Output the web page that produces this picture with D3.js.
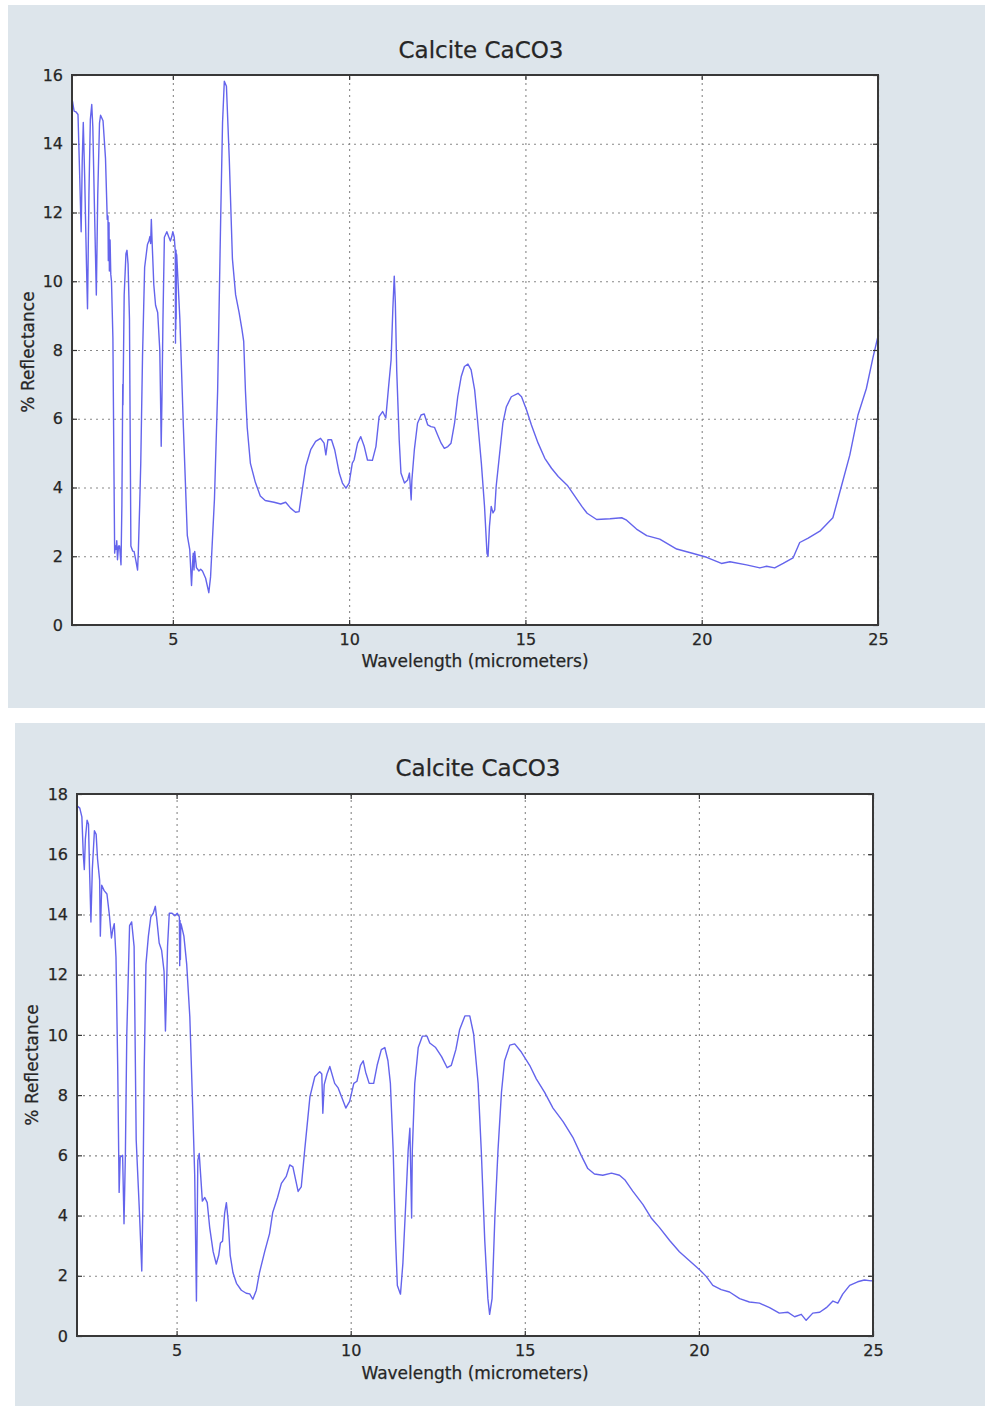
<!DOCTYPE html>
<html>
<head>
<meta charset="utf-8">
<script src="https://cdn.jsdelivr.net/npm/d3@7"></script>
<style>
  body { margin: 0; background: #fff; }
  text { font-family: "DejaVu Sans", sans-serif; fill: #262626; stroke: #262626; stroke-width: 0.25px; }
</style>
</head>
<body>
<svg id="chart" width="985" height="1406"></svg>
<script>
// spectrum data
const topWavelength = [
  2.14, 2.16, 2.20, 2.25, 2.31, 2.36, 2.40, 2.43, 2.46, 2.50, 2.55, 2.58, 2.62, 2.66, 2.70, 2.73, 2.78, 2.83, 2.87, 2.92,
  2.95, 3.02, 3.09, 3.14, 3.16, 3.17, 3.19, 3.20, 3.22, 3.24, 3.26, 3.30, 3.33, 3.35, 3.37, 3.39, 3.41, 3.43, 3.46, 3.49,
  3.53, 3.555, 3.58, 3.585, 3.62, 3.67, 3.70, 3.73, 3.77, 3.81, 3.86, 3.90, 3.95, 4.00, 4.02, 4.06, 4.09, 4.14, 4.20, 4.28,
  4.32, 4.35, 4.37, 4.39, 4.41, 4.46, 4.51, 4.57, 4.63, 4.66, 4.67, 4.69, 4.72, 4.76, 4.83, 4.88, 4.93, 4.97, 5.00, 5.04,
  5.07, 5.075, 5.08, 5.085, 5.09, 5.095, 5.10, 5.11, 5.20, 5.30, 5.41, 5.48, 5.53, 5.56, 5.58, 5.60, 5.62, 5.67, 5.74, 5.79,
  5.84, 5.93, 6.02, 6.07, 6.18, 6.27, 6.36, 6.41, 6.46, 6.52, 6.60, 6.69, 6.78, 6.88, 6.96, 7.01, 7.06, 7.11, 7.20, 7.34,
  7.48, 7.62, 7.87, 8.06, 8.20, 8.34, 8.48, 8.58, 8.67, 8.77, 8.91, 9.05, 9.19, 9.29, 9.34, 9.40, 9.50, 9.59, 9.72, 9.81,
  9.91, 10.00, 10.09, 10.14, 10.24, 10.33, 10.43, 10.52, 10.66, 10.76, 10.85, 10.95, 11.04, 11.12, 11.19, 11.24, 11.28, 11.31, 11.35, 11.42,
  11.47, 11.57, 11.66, 11.71, 11.76, 11.78, 11.85, 11.94, 12.04, 12.13, 12.23, 12.32, 12.42, 12.51, 12.61, 12.70, 12.80, 12.89, 12.99, 13.08,
  13.18, 13.27, 13.37, 13.46, 13.56, 13.65, 13.75, 13.84, 13.91, 13.94, 13.98, 14.03, 14.08, 14.13, 14.17, 14.27, 14.36, 14.46, 14.60, 14.79,
  14.89, 15.03, 15.17, 15.36, 15.55, 15.74, 15.93, 16.20, 16.40, 16.60, 16.75, 17.02, 17.40, 17.73, 17.87, 18.15, 18.44, 18.81, 19.29, 19.76,
  20.14, 20.56, 20.80, 21.27, 21.65, 21.84, 22.07, 22.31, 22.59, 22.78, 23.02, 23.35, 23.72, 23.96, 24.20, 24.43, 24.67, 24.86, 25.00
];
const topReflectance = [
  15.3, 15.2, 14.95, 14.93, 14.85, 13.0, 11.44, 13.5, 14.62, 13.0, 10.5, 9.2, 12.5, 14.7, 15.14, 14.5, 12.0, 9.6, 12.5, 14.6,
  14.83, 14.67, 13.58, 11.8, 11.9, 10.6, 11.7, 10.3, 11.2, 10.2, 10.0, 8.35, 4.5, 2.09, 2.3, 2.2, 2.45, 1.9, 2.3, 2.3,
  1.75, 3.5, 7.0, 6.4, 9.6, 10.8, 10.9, 10.5, 8.9, 2.3, 2.15, 2.14, 1.88, 1.6, 2.09, 3.5, 4.7, 7.8, 10.4, 11.07,
  11.17, 11.3, 11.1, 11.8, 11.2, 9.9, 9.3, 9.09, 8.0, 6.0, 5.2, 6.5, 8.9, 11.28, 11.44, 11.3, 11.17, 11.3, 11.44, 11.28,
  10.86, 8.2, 10.9, 8.6, 10.9, 8.9, 10.8, 10.76, 8.88, 5.74, 2.61, 2.19, 1.15, 1.8, 2.09, 1.6, 2.14, 1.67, 1.57, 1.62,
  1.57, 1.36, 0.94, 1.4, 3.66, 6.79, 12.0, 14.62, 15.82, 15.67, 13.58, 10.65, 9.61, 9.09, 8.6, 8.25, 6.79, 5.74, 4.7, 4.15,
  3.75, 3.62, 3.57, 3.52, 3.57, 3.4, 3.28, 3.3, 3.93, 4.61, 5.1, 5.34, 5.43, 5.29, 4.95, 5.39, 5.39, 5.1, 4.42, 4.13,
  3.98, 4.13, 4.71, 4.8, 5.29, 5.48, 5.19, 4.8, 4.79, 5.19, 6.06, 6.21, 6.02, 6.94, 7.71, 9.2, 10.15, 9.4, 7.4, 5.39,
  4.42, 4.13, 4.22, 4.42, 3.64, 4.22, 5.1, 5.87, 6.11, 6.14, 5.82, 5.77, 5.75, 5.53, 5.29, 5.14, 5.19, 5.29, 5.87, 6.64,
  7.23, 7.52, 7.59, 7.42, 6.84, 5.87, 4.71, 3.45, 2.09, 2.0, 2.87, 3.45, 3.26, 3.35, 4.03, 5.0, 5.87, 6.35, 6.64, 6.74,
  6.64, 6.26, 5.82, 5.29, 4.85, 4.56, 4.32, 4.05, 3.75, 3.45, 3.25, 3.07, 3.09, 3.12, 3.05, 2.79, 2.6, 2.5, 2.21, 2.08,
  1.97, 1.79, 1.84, 1.75, 1.66, 1.71, 1.66, 1.79, 1.95, 2.4, 2.53, 2.73, 3.12, 4.03, 4.94, 6.1, 6.88, 7.79, 8.4
];

const bottomWavelength = [
  2.14, 2.16, 2.22, 2.28, 2.32, 2.35, 2.38, 2.43, 2.47, 2.50, 2.54, 2.58, 2.64, 2.69, 2.73, 2.79, 2.81, 2.85, 2.92, 3.00,
  3.07, 3.13, 3.17, 3.21, 3.26, 3.31, 3.35, 3.38, 3.45, 3.49, 3.53, 3.57, 3.65, 3.71, 3.78, 3.84, 3.88, 3.93, 4.00, 4.03,
  4.07, 4.12, 4.19, 4.26, 4.33, 4.39, 4.43, 4.50, 4.57, 4.64, 4.68, 4.70, 4.74, 4.79, 4.87, 4.95, 5.02, 5.08, 5.09, 5.10,
  5.11, 5.12, 5.14, 5.21, 5.29, 5.38, 5.46, 5.52, 5.57, 5.61, 5.65, 5.69, 5.74, 5.81, 5.88, 5.95, 6.05, 6.14, 6.21, 6.26,
  6.32, 6.38, 6.43, 6.48, 6.54, 6.62, 6.72, 6.86, 7.00, 7.10, 7.19, 7.29, 7.38, 7.53, 7.67, 7.76, 7.90, 8.01, 8.15, 8.25,
  8.34, 8.49, 8.58, 8.68, 8.83, 8.97, 9.11, 9.17, 9.20, 9.24, 9.32, 9.40, 9.54, 9.64, 9.74, 9.86, 9.97, 10.09, 10.18, 10.28,
  10.36, 10.43, 10.53, 10.66, 10.76, 10.88, 10.98, 11.07, 11.14, 11.22, 11.29, 11.34, 11.43, 11.50, 11.58, 11.65, 11.70, 11.75, 11.77, 11.84,
  11.94, 12.06, 12.19, 12.27, 12.44, 12.61, 12.77, 12.89, 13.02, 13.13, 13.28, 13.42, 13.53, 13.66, 13.75, 13.85, 13.94, 13.99, 14.06, 14.14,
  14.23, 14.33, 14.42, 14.57, 14.71, 14.90, 15.14, 15.33, 15.57, 15.81, 16.10, 16.38, 16.62, 16.81, 17.00, 17.24, 17.49, 17.72, 17.87, 18.10,
  18.39, 18.63, 18.87, 19.16, 19.44, 19.73, 20.02, 20.21, 20.40, 20.64, 20.88, 21.17, 21.45, 21.74, 22.03, 22.31, 22.55, 22.75, 22.94, 23.08,
  23.27, 23.47, 23.66, 23.85, 23.99, 24.13, 24.33, 24.56, 24.75, 24.95, 25.00
];
const bottomReflectance = [
  17.6, 17.59, 17.53, 17.24, 16.0, 15.49, 16.5, 17.13, 17.0, 15.5, 13.75, 15.5, 16.78, 16.66, 15.84, 15.14, 13.28, 14.97, 14.79, 14.68,
  13.98, 13.22, 13.51, 13.69, 12.58, 8.85, 4.77, 5.94, 6.0, 3.73, 6.06, 10.02, 13.63, 13.75, 12.93, 6.52, 5.48, 4.2, 2.16, 4.2,
  8.85, 12.35, 13.28, 13.92, 14.04, 14.27, 13.86, 13.05, 12.81, 12.11, 10.13, 11.0, 12.93, 14.04, 14.04, 13.96, 14.04, 13.92, 12.3, 13.8,
  12.5, 13.7, 13.63, 13.28, 12.35, 10.6, 7.69, 5.36, 1.16, 5.83, 6.06, 5.36, 4.48, 4.6, 4.43, 3.61, 2.8, 2.39, 2.68, 3.09,
  3.15, 4.08, 4.43, 3.85, 2.68, 2.1, 1.75, 1.52, 1.42, 1.4, 1.22, 1.52, 2.1, 2.8, 3.4, 4.1, 4.6, 5.07, 5.3, 5.68,
  5.62, 4.8, 4.95, 6.18, 7.95, 8.61, 8.78, 8.7, 7.4, 8.35, 8.7, 8.95, 8.39, 8.24, 7.94, 7.57, 7.79, 8.39, 8.46, 8.99,
  9.14, 8.76, 8.39, 8.39, 8.99, 9.51, 9.58, 9.14, 8.39, 6.16, 3.17, 1.68, 1.39, 2.43, 4.37, 6.16, 6.9, 3.92, 6.16, 8.39,
  9.58, 9.96, 9.96, 9.73, 9.58, 9.28, 8.91, 8.99, 9.51, 10.18, 10.63, 10.63, 10.03, 8.39, 6.16, 3.17, 1.24, 0.72, 1.24, 3.92,
  6.16, 8.09, 9.14, 9.66, 9.7, 9.43, 8.99, 8.54, 8.09, 7.57, 7.12, 6.6, 6.0, 5.56, 5.38, 5.34, 5.41, 5.34, 5.19, 4.81,
  4.37, 3.92, 3.6, 3.17, 2.8, 2.5, 2.2, 1.98, 1.68, 1.54, 1.46, 1.24, 1.13, 1.09, 0.94, 0.76, 0.79, 0.64, 0.72, 0.52,
  0.76, 0.79, 0.94, 1.16, 1.09, 1.39, 1.68, 1.8, 1.86, 1.83, 1.85
];

// tick labels and texts
const xTicks = [5, 10, 15, 20, 25];
const topYTicks = [0, 2, 4, 6, 8, 10, 12, 14, 16];
const bottomYTicks = [0, 2, 4, 6, 8, 10, 12, 14, 16, 18];
const chartTitle = "Calcite CaCO3";
const xLabel = "Wavelength (micrometers)";
const yLabel = "% Reflectance";

const svg = d3.select("#chart");

function drawPanel(p) {
    const panel = svg.append('g');

    // light grey-blue backing
    panel.append('rect')
        .attr('x', p.bx).attr('y', p.by)
        .attr('width', p.bw).attr('height', p.bh)
        .attr('fill', '#dde5eb');

    // plot area
    panel.append('rect')
        .attr('x', p.left).attr('y', p.top)
        .attr('width', p.right - p.left).attr('height', p.bottom - p.top)
        .attr('fill', '#fff');

    const x = d3.scaleLinear()
        .domain([2.14, 25])
        .range([p.left, p.right]);
    const y = d3.scaleLinear()
        .domain([0, d3.max(p.yTicks)])
        .range([p.bottom, p.top]);

    // dotted grid
    const gridX = panel.append('g')
        .attr('transform', `translate(0,${p.bottom})`)
        .call(d3.axisBottom(x).tickValues(xTicks).tickSize(-(p.bottom - p.top)).tickFormat(''));
    const gridY = panel.append('g')
        .attr('transform', `translate(${p.left},0)`)
        .call(d3.axisLeft(y).tickValues(p.yTicks).tickSize(-(p.right - p.left)).tickFormat(''));
    [gridX, gridY].forEach(g => {
        g.select('.domain').remove();
        g.selectAll('line')
            .attr('stroke', '#888')
            .attr('stroke-width', 1.1)
            .attr('stroke-dasharray', '2,4');
    });

    // the spectrum
    const points = p.wl.map((d, i) => [d, p.refl[i]]);
    const line = d3.line()
        .x(d => x(d[0]))
        .y(d => y(d[1]));
    panel.append('path')
        .datum(points)
        .attr('d', line)
        .attr('fill', 'none')
        .attr('stroke', '#6464ec')
        .attr('stroke-width', 1.4)
        .attr('stroke-linejoin', 'round');

    // inward ticks on all four sides
    const axB = panel.append('g')
        .attr('transform', `translate(0,${p.bottom})`)
        .call(d3.axisBottom(x).tickValues(xTicks).tickSize(-5).tickPadding(9));
    const axL = panel.append('g')
        .attr('transform', `translate(${p.left},0)`)
        .call(d3.axisLeft(y).tickValues(p.yTicks).tickSize(-5).tickPadding(9));
    const axT = panel.append('g')
        .attr('transform', `translate(0,${p.top})`)
        .call(d3.axisTop(x).tickValues(xTicks).tickSize(-5).tickFormat(''));
    const axR = panel.append('g')
        .attr('transform', `translate(${p.right},0)`)
        .call(d3.axisRight(y).tickValues(p.yTicks).tickSize(-5).tickFormat(''));
    [axB, axL, axT, axR].forEach(g => {
        g.select('.domain').remove();
        g.selectAll('line').attr('stroke', '#333').attr('stroke-width', 1.2);
        g.selectAll('text')
            .style('font-family', '"DejaVu Sans", sans-serif')
            .style('font-size', '16px')
            .attr('fill', '#262626');
    });

    // frame
    panel.append('rect')
        .attr('x', p.left).attr('y', p.top)
        .attr('width', p.right - p.left).attr('height', p.bottom - p.top)
        .attr('fill', 'none')
        .attr('stroke', '#383838')
        .attr('stroke-width', 2);

    // title and axis labels
    panel.append('text')
        .attr('x', p.titleX).attr('y', p.titleY)
        .attr('text-anchor', 'middle')
        .style('font-size', '23px')
        .text(chartTitle);
    panel.append('text')
        .attr('x', p.xLabelX).attr('y', p.xLabelY)
        .attr('text-anchor', 'middle')
        .style('font-size', '17px')
        .text(xLabel);
    panel.append('text')
        .attr('transform', `translate(${p.yLabelX},${p.yLabelY}) rotate(-90)`)
        .attr('text-anchor', 'middle')
        .style('font-size', '17px')
        .text(yLabel);
}

drawPanel({
    bx: 8, by: 5, bw: 977, bh: 703,
    left: 72, right: 878, top: 75, bottom: 625,
    yTicks: topYTicks, wl: topWavelength, refl: topReflectance,
    titleX: 481, titleY: 58,
    xLabelX: 475, xLabelY: 667,
    yLabelX: 34, yLabelY: 352
});

drawPanel({
    bx: 15, by: 723, bw: 970, bh: 683,
    left: 77, right: 873, top: 794, bottom: 1336,
    yTicks: bottomYTicks, wl: bottomWavelength, refl: bottomReflectance,
    titleX: 478, titleY: 776,
    xLabelX: 475, xLabelY: 1379,
    yLabelX: 38, yLabelY: 1065
});
</script>
</body>
</html>
